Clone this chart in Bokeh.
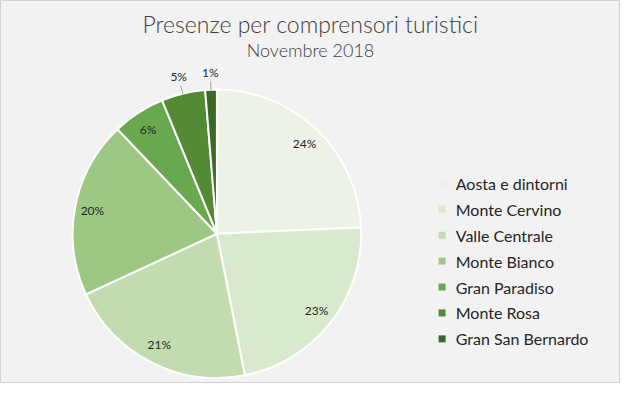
import math
from bokeh.plotting import figure
from bokeh.models import Range1d, ColumnDataSource
from bokeh.core.properties import value
from bokeh.embed import file_html
from bokeh.resources import INLINE

categories = ["Aosta e dintorni", "Monte Cervino", "Valle Centrale", "Monte Bianco",
              "Gran Paradiso", "Monte Rosa", "Gran San Bernardo"]
shares = [24.3, 22.6, 21.2, 19.8, 5.9, 4.9, 1.3]
colors = ["#ecf3e6", "#d9e9cd", "#c2dcb0", "#9cc883", "#6aa84f", "#528a36", "#3b6a27"]
title_text = "Presenze per comprensori turistici"
subtitle_text = "Novembre 2018"

W, H = 620, 383
FONT = "Lato Light"
FONT2 = "Lato"
# data coords: x = reference px, y = 399 - reference px
p = figure(width=W, height=H, output_backend="svg", toolbar_location=None,
           x_range=Range1d(0, 636), y_range=Range1d(0, 399),
           min_border=0, outline_line_color="#d0d0d0")
p.axis.visible = False
p.grid.visible = False
p.background_fill_color = "#f2f2f2"
p.border_fill_color = "#f2f2f2"

cx, cy, r = 222, 399 - 243, 148
total = sum(shares)
starts, ends, mids = [], [], []
acc = 0.0
for s in shares:
    a0 = math.pi / 2 - 2 * math.pi * acc / total
    acc += s
    a1 = math.pi / 2 - 2 * math.pi * acc / total
    starts.append(a0)
    ends.append(a1)
    mids.append((a0 + a1) / 2)

src = ColumnDataSource(dict(start=starts, end=ends, color=colors))
p.wedge(x=cx, y=cy, radius=r, start_angle="start", end_angle="end",
        direction="clock", fill_color="color", line_color="white", line_width=2, source=src)

# labels
lx, ly, lt = [], [], []
for s, m in zip(shares, mids):
    txt = f"{round(s)}%"
    if s > 5.5:
        rr = 130
    else:
        rr = 168
        p.line([cx + (r + 1) * math.cos(m), cx + 159 * math.cos(m)],
               [cy + (r + 1) * math.sin(m), cy + 159 * math.sin(m)],
               line_color="#a6a6a6", line_width=1)
    lx.append(cx + rr * math.cos(m))
    ly.append(cy + rr * math.sin(m))
    lt.append(txt)
p.text(x=lx, y=ly, text=lt, text_align="center", text_baseline="middle",
       text_font=value(FONT2), text_font_size="12px", text_color="#262626")

# title
p.text(x=[318], y=[399 - 25], text=[title_text], text_align="center", text_baseline="middle",
       text_font=value(FONT), text_font_size="23px", text_color="#404040")
p.text(x=[318], y=[399 - 52], text=[subtitle_text], text_align="center", text_baseline="middle",
       text_font=value(FONT), text_font_size="18px", text_color="#404040")

# legend
leg_y = [399 - (190.5 + 27 * i) for i in range(len(categories))]
p.scatter(x=[453] * len(categories), y=leg_y, marker="square", size=7,
          fill_color=colors, line_color=None)
p.text(x=[467] * len(categories), y=leg_y, text=categories, text_align="left",
       text_baseline="middle", text_font=value(FONT2), text_font_size="16px",
       text_color="#262626")

open("out.html", "w").write(file_html(p, INLINE))
